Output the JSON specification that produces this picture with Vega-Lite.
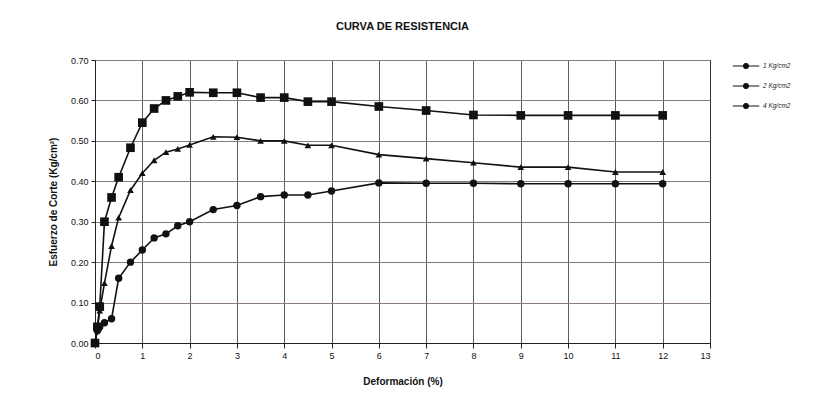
{
  "$schema": "https://vega.github.io/schema/vega-lite/v6.json",
  "autosize": "none",
  "width": 615,
  "height": 283,
  "padding": {"left": 95, "top": 60, "right": 107, "bottom": 76},
  "background": "white",
  "title": {"text": "CURVA DE RESISTENCIA", "font": "Liberation Sans", "fontSize": 11, "fontWeight": "bold", "color": "#111", "offset": 20, "anchor": "middle"},
  "config": {
    "view": {"stroke": "#222", "strokeWidth": 1},
    "axis": {"labelFont": "Liberation Sans", "titleFont": "Liberation Sans", "labelFontSize": 9, "titleFontSize": 10, "labelColor": "#111", "titleColor": "#111", "domainColor": "#222", "tickColor": "#222"}
  },
  "data": {"values": [
    {"d": 0, "t": 0, "s": "1 Kg/cm2"}, {"d": 0.05, "t": 0.03, "s": "1 Kg/cm2"}, {"d": 0.1, "t": 0.04, "s": "1 Kg/cm2"}, {"d": 0.2, "t": 0.05, "s": "1 Kg/cm2"}, {"d": 0.35, "t": 0.06, "s": "1 Kg/cm2"}, {"d": 0.5, "t": 0.16, "s": "1 Kg/cm2"}, {"d": 0.75, "t": 0.2, "s": "1 Kg/cm2"}, {"d": 1, "t": 0.23, "s": "1 Kg/cm2"}, {"d": 1.25, "t": 0.26, "s": "1 Kg/cm2"}, {"d": 1.5, "t": 0.27, "s": "1 Kg/cm2"}, {"d": 1.75, "t": 0.29, "s": "1 Kg/cm2"}, {"d": 2, "t": 0.3, "s": "1 Kg/cm2"}, {"d": 2.5, "t": 0.33, "s": "1 Kg/cm2"}, {"d": 3, "t": 0.34, "s": "1 Kg/cm2"}, {"d": 3.5, "t": 0.362, "s": "1 Kg/cm2"}, {"d": 4, "t": 0.366, "s": "1 Kg/cm2"}, {"d": 4.5, "t": 0.366, "s": "1 Kg/cm2"}, {"d": 5, "t": 0.376, "s": "1 Kg/cm2"}, {"d": 6, "t": 0.396, "s": "1 Kg/cm2"}, {"d": 7, "t": 0.395, "s": "1 Kg/cm2"}, {"d": 8, "t": 0.395, "s": "1 Kg/cm2"}, {"d": 9, "t": 0.394, "s": "1 Kg/cm2"}, {"d": 10, "t": 0.394, "s": "1 Kg/cm2"}, {"d": 11, "t": 0.394, "s": "1 Kg/cm2"}, {"d": 12, "t": 0.394, "s": "1 Kg/cm2"},
    {"d": 0, "t": 0, "s": "2 Kg/cm2"}, {"d": 0.05, "t": 0.035, "s": "2 Kg/cm2"}, {"d": 0.1, "t": 0.08, "s": "2 Kg/cm2"}, {"d": 0.2, "t": 0.148, "s": "2 Kg/cm2"}, {"d": 0.35, "t": 0.24, "s": "2 Kg/cm2"}, {"d": 0.5, "t": 0.31, "s": "2 Kg/cm2"}, {"d": 0.75, "t": 0.378, "s": "2 Kg/cm2"}, {"d": 1, "t": 0.42, "s": "2 Kg/cm2"}, {"d": 1.25, "t": 0.452, "s": "2 Kg/cm2"}, {"d": 1.5, "t": 0.472, "s": "2 Kg/cm2"}, {"d": 1.75, "t": 0.48, "s": "2 Kg/cm2"}, {"d": 2, "t": 0.49, "s": "2 Kg/cm2"}, {"d": 2.5, "t": 0.51, "s": "2 Kg/cm2"}, {"d": 3, "t": 0.509, "s": "2 Kg/cm2"}, {"d": 3.5, "t": 0.5, "s": "2 Kg/cm2"}, {"d": 4, "t": 0.5, "s": "2 Kg/cm2"}, {"d": 4.5, "t": 0.489, "s": "2 Kg/cm2"}, {"d": 5, "t": 0.489, "s": "2 Kg/cm2"}, {"d": 6, "t": 0.466, "s": "2 Kg/cm2"}, {"d": 7, "t": 0.456, "s": "2 Kg/cm2"}, {"d": 8, "t": 0.446, "s": "2 Kg/cm2"}, {"d": 9, "t": 0.435, "s": "2 Kg/cm2"}, {"d": 10, "t": 0.435, "s": "2 Kg/cm2"}, {"d": 11, "t": 0.423, "s": "2 Kg/cm2"}, {"d": 12, "t": 0.423, "s": "2 Kg/cm2"},
    {"d": 0, "t": 0, "s": "4 Kg/cm2"}, {"d": 0.05, "t": 0.04, "s": "4 Kg/cm2"}, {"d": 0.1, "t": 0.09, "s": "4 Kg/cm2"}, {"d": 0.2, "t": 0.3, "s": "4 Kg/cm2"}, {"d": 0.35, "t": 0.36, "s": "4 Kg/cm2"}, {"d": 0.5, "t": 0.41, "s": "4 Kg/cm2"}, {"d": 0.75, "t": 0.483, "s": "4 Kg/cm2"}, {"d": 1, "t": 0.545, "s": "4 Kg/cm2"}, {"d": 1.25, "t": 0.58, "s": "4 Kg/cm2"}, {"d": 1.5, "t": 0.6, "s": "4 Kg/cm2"}, {"d": 1.75, "t": 0.61, "s": "4 Kg/cm2"}, {"d": 2, "t": 0.62, "s": "4 Kg/cm2"}, {"d": 2.5, "t": 0.619, "s": "4 Kg/cm2"}, {"d": 3, "t": 0.619, "s": "4 Kg/cm2"}, {"d": 3.5, "t": 0.607, "s": "4 Kg/cm2"}, {"d": 4, "t": 0.607, "s": "4 Kg/cm2"}, {"d": 4.5, "t": 0.597, "s": "4 Kg/cm2"}, {"d": 5, "t": 0.597, "s": "4 Kg/cm2"}, {"d": 6, "t": 0.585, "s": "4 Kg/cm2"}, {"d": 7, "t": 0.575, "s": "4 Kg/cm2"}, {"d": 8, "t": 0.564, "s": "4 Kg/cm2"}, {"d": 9, "t": 0.563, "s": "4 Kg/cm2"}, {"d": 10, "t": 0.563, "s": "4 Kg/cm2"}, {"d": 11, "t": 0.563, "s": "4 Kg/cm2"}, {"d": 12, "t": 0.563, "s": "4 Kg/cm2"}
  ]},
  "encoding": {
    "x": {"field": "d", "type": "quantitative", "scale": {"domain": [0, 13], "nice": false},
      "axis": {"title": "Deformación (%)", "values": [0,1,2,3,4,5,6,7,8,9,10,11,12,13], "format": "d", "grid": true, "gridColor": "#333", "gridWidth": 0.8, "tickSize": 5, "labelPadding": 3, "titlePadding": 16}},
    "y": {"field": "t", "type": "quantitative", "scale": {"domain": [0, 0.7], "nice": false},
      "axis": {"title": "Esfuerzo de Corte (Kg/cm²)", "values": [0, 0.1, 0.2, 0.3, 0.4, 0.5, 0.6, 0.7], "format": ".2f", "grid": true, "gridColor": "#8a7a7a", "gridWidth": 1, "tickSize": 4, "labelPadding": 3, "titlePadding": 12}}
  },
  "layer": [
    {
      "mark": {"type": "line", "strokeWidth": 1.6},
      "encoding": {
        "color": {"field": "s", "type": "nominal", "scale": {"domain": ["1 Kg/cm2", "2 Kg/cm2", "4 Kg/cm2"], "range": ["#111", "#111", "#111"]},
          "legend": {"title": null, "orient": "none", "legendX": 637, "legendY": -8, "symbolType": "M-1,0H1M-0.18,0a0.18,0.18 0 1,0 0.36,0a0.18,0.18 0 1,0 -0.36,0", "symbolSize": 700, "symbolStrokeWidth": 1.2, "symbolFillColor": "#111", "symbolStrokeColor": "#111", "rowPadding": 1, "labelFont": "Liberation Sans", "labelFontSize": 6.5, "labelFontStyle": "italic", "labelColor": "#222", "labelOffset": 3}}
      }
    },
    {
      "transform": [{"filter": "datum.s == '1 Kg/cm2'"}],
      "mark": {"type": "point", "shape": "circle", "filled": true, "opacity": 1, "color": "#111", "size": 55}
    },
    {
      "transform": [{"filter": "datum.s == '2 Kg/cm2'"}],
      "mark": {"type": "point", "shape": "triangle-up", "filled": true, "opacity": 1, "color": "#111", "size": 45}
    },
    {
      "transform": [{"filter": "datum.s == '4 Kg/cm2'"}],
      "mark": {"type": "point", "shape": "square", "filled": true, "opacity": 1, "color": "#111", "size": 75}
    }
  ]
}
